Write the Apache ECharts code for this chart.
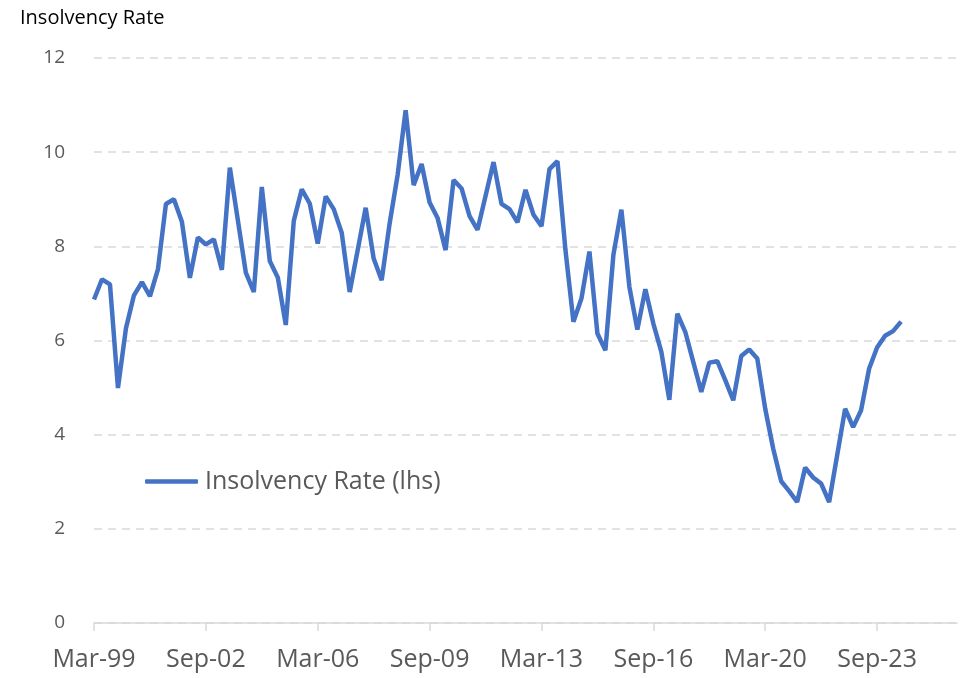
<!DOCTYPE html>
<html>
<head>
<meta charset="utf-8">
<script src="https://cdn.jsdelivr.net/npm/echarts@6/dist/echarts.min.js"></script>
<style>
  html, body { margin: 0; padding: 0; background: #fff; }
  #main { width: 966px; height: 678px; }
</style>
</head>
<body>
<div id="main"></div>
<script>
var chartDom = document.getElementById('main');
var myChart = echarts.init(chartDom);
var option;

// quarterly axis, Mar-99 .. Mar-26 (data stops at Jun-24)
const months = ['Mar', 'Jun', 'Sep', 'Dec'];
const firstYear = 1999;
const quarterCount = 109;
const quarters = [];
for (let i = 0; i < quarterCount; i++) {
  let yr = (firstYear + Math.floor(i / 4)) % 100;
  quarters.push(months[i % 4] + '-' + (yr < 10 ? '0' + yr : yr));
}

// insolvency rate
const insolvencyRate = [
  6.87, 7.30, 7.19, 4.99, 6.26, 6.96, 7.24, 6.94, 7.51, 8.90,
  9.00, 8.52, 7.33, 8.19, 8.04, 8.15, 7.50, 9.67, 8.56, 7.44,
  7.03, 9.26, 7.69, 7.34, 6.33, 8.54, 9.21, 8.91, 8.06, 9.06,
  8.79, 8.29, 7.03, 7.92, 8.82, 7.74, 7.28, 8.49, 9.52, 10.89,
  9.30, 9.75, 8.93, 8.60, 7.92, 9.41, 9.23, 8.64, 8.35, 9.07,
  9.79, 8.90, 8.79, 8.51, 9.20, 8.67, 8.43, 9.64, 9.81, 7.92,
  6.40, 6.89, 7.89, 6.15, 5.79, 7.82, 8.78, 7.14, 6.23, 7.09,
  6.36, 5.76, 4.74, 6.57, 6.18, 5.54, 4.91, 5.53, 5.56, 5.16,
  4.73, 5.67, 5.81, 5.62, 4.55, 3.70, 3.01, 2.80, 2.57, 3.30,
  3.09, 2.96, 2.57, 3.56, 4.55, 4.16, 4.52, 5.40, 5.85, 6.10,
  6.20, 6.40
];

const fontName = 'Open Sans';
const greyText = '#595959';

option = {
  animation: false,
  title: {
    text: 'Insolvency Rate',
    left: 15,
    top: 3,
    textStyle: { fontFamily: fontName, fontSize: 20, fontWeight: 'normal', color: '#000' }
  },
  legend: {
    data: ['Insolvency Rate (lhs)'],
    left: 140,
    top: 464,
    icon: 'roundRect',
    itemWidth: 53,
    itemHeight: 4.5,
    itemGap: 10,
    textStyle: { fontFamily: fontName, fontSize: 25, color: greyText, padding: [0, 0, 0, 2] }
  },
  grid: {
    left: 94,
    right: 9,
    top: 58,
    bottom: 55
  },
  xAxis: {
    type: 'category',
    data: quarters,
    boundaryGap: false,
    axisLine: { lineStyle: { color: '#d9d9d9', width: 1.5 } },
    axisTick: { show: true, interval: 13, length: 8, lineStyle: { color: '#d9d9d9', width: 1.5 } },
    axisLabel: { interval: 13, margin: 24, fontFamily: fontName, fontSize: 25, color: greyText },
    splitLine: { show: false }
  },
  yAxis: {
    type: 'value',
    min: 0,
    max: 12,
    interval: 2,
    axisLine: { show: false },
    axisTick: { show: false },
    axisLabel: { margin: 29, fontFamily: fontName, fontSize: 19, color: greyText },
    splitLine: { lineStyle: { color: '#d9d9d9', width: 1.5, type: [8, 6] } }
  },
  series: [
    {
      name: 'Insolvency Rate (lhs)',
      type: 'line',
      data: insolvencyRate,
      symbol: 'none',
      lineStyle: { color: '#4472c4', width: 4.5 },
      itemStyle: { color: '#4472c4' }
    }
  ]
};

option && myChart.setOption(option);
</script>
</body>
</html>
